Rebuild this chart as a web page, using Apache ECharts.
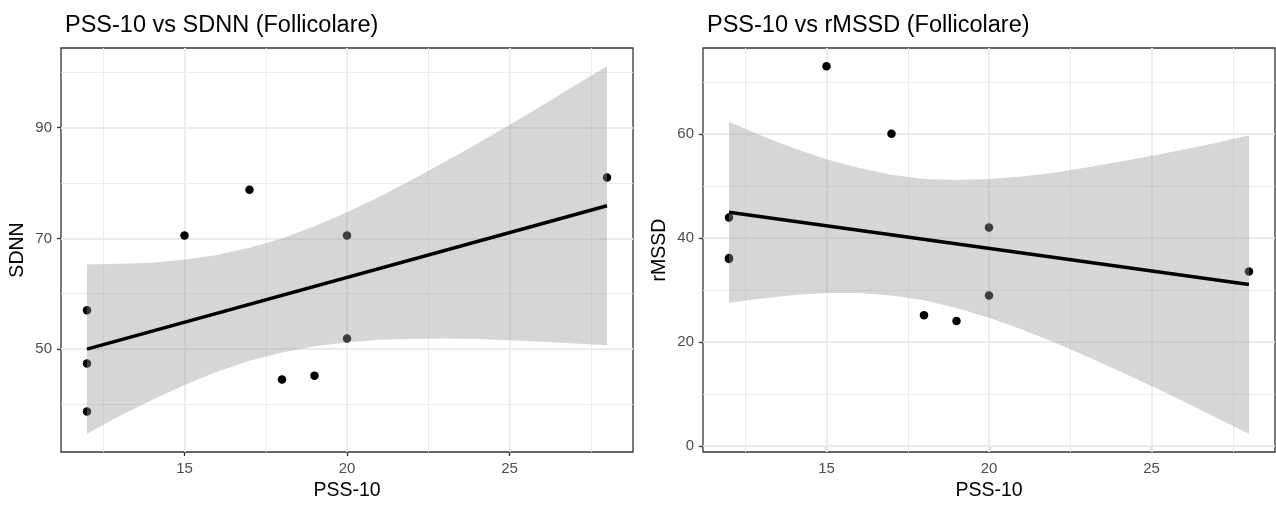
<!DOCTYPE html>
<html>
<head>
    <meta charset="UTF-8">
    <title>PSS-10 vs HRV (Follicolare)</title>
    <style type="text/css">
        *{
            margin: 0;padding: 0;
        }
        #main{
            width: 1276px;
            height: 506px;
        }
    </style>
    <script src="https://cdn.jsdelivr.net/npm/echarts@6/dist/echarts.min.js" type="text/javascript" charset="utf-8"></script>
</head>
<body>
<div id="main"></div>
<script type="text/javascript">
    // dati
    var pss = [12, 12, 12, 15, 17, 18, 19, 20, 20, 28];
    var sdnn = [57.0, 47.4, 38.7, 70.5, 78.8, 44.5, 45.2, 70.5, 51.9, 81.0];
    var rmssd = [43.9, 36.1, 35.9, 73.0, 60.0, 25.1, 24.0, 42.0, 28.9, 33.5];

    // retta di regressione (estremi) e banda di confidenza
    var fitX = [12, 28];
    var fitSdnn = [50.0, 75.9];
    var fitRmssd = [44.9, 31.0];
    var bandX = [12, 13, 14, 15, 16, 17, 18, 19, 20, 21, 22, 23, 24, 25, 26, 27, 28];
    var sdnnUpper = [65.3, 65.4, 65.6, 66.2, 67.0, 68.3, 70.0, 72.2, 74.7, 77.5, 80.6, 83.8, 87.1, 90.5, 94.0, 97.6, 101.1];
    var sdnnLower = [34.7, 37.9, 40.8, 43.5, 45.9, 47.9, 49.4, 50.5, 51.2, 51.7, 51.8, 51.9, 51.8, 51.6, 51.3, 51.0, 50.7];
    var rmssdUpper = [62.3, 59.6, 57.2, 55.1, 53.4, 52.1, 51.3, 51.1, 51.3, 51.8, 52.5, 53.5, 54.6, 55.8, 57.0, 58.3, 59.7];
    var rmssdLower = [27.5, 28.3, 29.0, 29.4, 29.4, 28.9, 28.0, 26.5, 24.6, 22.4, 19.9, 17.2, 14.4, 11.5, 8.5, 5.4, 2.3];

    // tick
    var xTicks = [15, 20, 25];
    var xMinor = [12.5, 17.5, 22.5, 27.5];
    var sdnnTicks = [50, 70, 90];
    var sdnnMinor = [40, 60, 80, 100];
    var rmssdTicks = [0, 20, 40, 60];
    var rmssdMinor = [10, 30, 50, 70];

    var font = 'Liberation Sans, Arial, sans-serif';

    function pairs(xs, ys) {
        var out = [];
        for (var i = 0; i < xs.length; i++) out.push([xs[i], ys[i]]);
        return out;
    }

    function gridLines(xs, xm, ys, ym) {
        var d = [];
        var major = {color: '#EBEBEB', width: 1.8, type: 'solid'};
        var minor = {color: '#EBEBEB', width: 0.9, type: 'solid'};
        xm.forEach(function (v) { d.push({xAxis: v, lineStyle: minor}); });
        ym.forEach(function (v) { d.push({yAxis: v, lineStyle: minor}); });
        xs.forEach(function (v) { d.push({xAxis: v, lineStyle: major}); });
        ys.forEach(function (v) { d.push({yAxis: v, lineStyle: major}); });
        return d;
    }

    function band(upper, lower) {
        return function (params, api) {
            var pts = [];
            for (var i = 0; i < bandX.length; i++) pts.push(api.coord([bandX[i], upper[i]]));
            for (var j = bandX.length - 1; j >= 0; j--) pts.push(api.coord([bandX[j], lower[j]]));
            return {
                type: 'polygon',
                shape: {points: pts},
                style: {fill: 'rgba(153,153,153,0.4)'}
            };
        };
    }

    function xAxis(idx) {
        return {
            type: 'value', gridIndex: idx, min: 11.2, max: 28.8,
            name: 'PSS-10', nameLocation: 'middle', nameGap: 29,
            nameTextStyle: {color: '#000', fontSize: 19.5, fontFamily: font},
            axisLine: {show: false},
            axisTick: {show: true, length: 4, customValues: xTicks, lineStyle: {color: '#333', width: 1.3}},
            axisLabel: {customValues: xTicks, margin: 9, color: '#4D4D4D', fontSize: 15, fontFamily: font},
            splitLine: {show: false}
        };
    }

    function yAxis(idx, name, lo, hi, ticks) {
        return {
            type: 'value', gridIndex: idx, min: lo, max: hi,
            name: name, nameLocation: 'middle', nameGap: 33,
            nameTextStyle: {color: '#000', fontSize: 19.5, fontFamily: font},
            axisLine: {show: false},
            axisTick: {show: true, length: 4, customValues: ticks, lineStyle: {color: '#333', width: 1.3}},
            axisLabel: {customValues: ticks, margin: 9, color: '#4D4D4D', fontSize: 15, fontFamily: font},
            splitLine: {show: false}
        };
    }

    function panelSeries(idx, ys, fit, upper, lower, yt, ym) {
        return [
            {
                type: 'line', xAxisIndex: idx, yAxisIndex: idx, data: [], z: 1,
                markLine: {
                    silent: true, symbol: 'none', animation: false, z: 1,
                    label: {show: false},
                    data: gridLines(xTicks, xMinor, yt, ym)
                }
            },
            {
                type: 'scatter', xAxisIndex: idx, yAxisIndex: idx, z: 2,
                symbolSize: 8.5, itemStyle: {color: '#000', opacity: 1},
                data: pairs(pss, ys)
            },
            {
                type: 'custom', xAxisIndex: idx, yAxisIndex: idx, z: 3,
                renderItem: band(upper, lower),
                data: [[bandX[0], upper[0]]]
            },
            {
                type: 'line', xAxisIndex: idx, yAxisIndex: idx, z: 4,
                symbol: 'none', lineStyle: {color: '#000', width: 3.5},
                data: pairs(fitX, fit)
            }
        ];
    }

    var myChart = echarts.init(document.getElementById('main'));

    var option = {
        animation: false,
        backgroundColor: '#fff',
        title: [
            {text: 'PSS-10 vs SDNN (Follicolare)', left: 60, top: 9,
                textStyle: {color: '#000', fontWeight: 'normal', fontSize: 23.5, fontFamily: font}},
            {text: 'PSS-10 vs rMSSD (Follicolare)', left: 702, top: 9,
                textStyle: {color: '#000', fontWeight: 'normal', fontSize: 23.5, fontFamily: font}}
        ],
        grid: [
            {left: 61, top: 48, width: 572, height: 412, show: true, borderColor: '#333', borderWidth: 1.3, backgroundColor: 'transparent'},
            {left: 703, top: 48, width: 572, height: 412, show: true, borderColor: '#333', borderWidth: 1.3, backgroundColor: 'transparent'}
        ],
        xAxis: [xAxis(0), xAxis(1)],
        yAxis: [
            yAxis(0, 'SDNN', 31.4, 104.4, sdnnTicks),
            yAxis(1, 'rMSSD', -1.2, 76.5, rmssdTicks)
        ],
        series: panelSeries(0, sdnn, fitSdnn, sdnnUpper, sdnnLower, sdnnTicks, sdnnMinor)
            .concat(panelSeries(1, rmssd, fitRmssd, rmssdUpper, rmssdLower, rmssdTicks, rmssdMinor))
    };

    myChart.setOption(option);
</script>
</body>
</html>
